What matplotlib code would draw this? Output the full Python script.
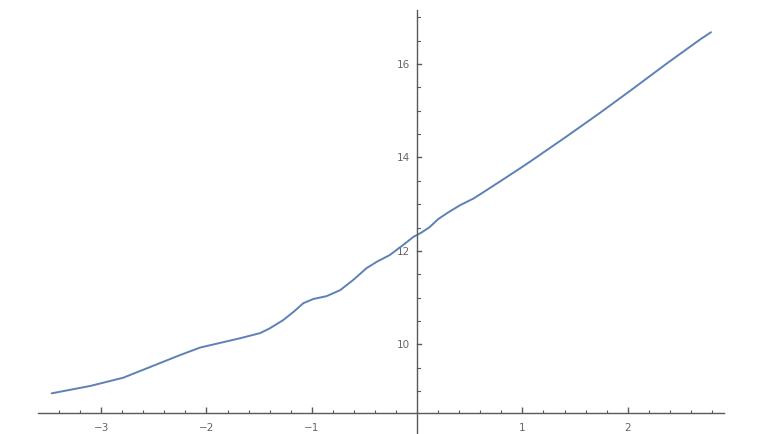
import numpy as np
import matplotlib.pyplot as plt
from matplotlib.ticker import FixedLocator, FuncFormatter

# curve points
x_vals = [-3.47, -3.10, -2.79, -2.55, -2.25, -2.06, -1.87, -1.68, -1.49, -1.40,
          -1.27, -1.17, -1.08, -0.985, -0.86, -0.73, -0.605, -0.48, -0.38, -0.26,
          -0.13, -0.035, 0.04, 0.12, 0.20, 0.30, 0.41, 0.535, 0.66, 0.79,
          1.00, 1.105, 1.42, 1.74, 2.055, 2.37, 2.69, 2.79]
y_vals = [8.95, 9.11, 9.285, 9.50, 9.77, 9.93, 10.03, 10.13, 10.24, 10.34,
          10.52, 10.70, 10.88, 10.97, 11.03, 11.16, 11.38, 11.63, 11.77, 11.91,
          12.13, 12.30, 12.39, 12.51, 12.68, 12.83, 12.98, 13.12, 13.30, 13.49,
          13.80, 13.96, 14.45, 14.96, 15.48, 16.01, 16.53, 16.68]

x_ticks = [-3, -2, -1, 1, 2]
y_ticks = [10, 12, 14, 16]

axis_col = "#5a5a5a"
label_col = "#666666"

fig = plt.figure(figsize=(7.71, 4.34), dpi=100)
ax = fig.add_axes([0, 0, 1, 1])
ax.plot(x_vals, y_vals, color="#5e81b5", lw=1.4, solid_joinstyle="round",
        solid_capstyle="round")

ax.set_xlim(-3.96, 3.36)
ax.set_ylim(8.08, 17.37)

for s in ["top", "right"]:
    ax.spines[s].set_visible(False)
ax.spines["left"].set_position(("data", 0))
ax.spines["bottom"].set_position(("data", 8.52))
ax.spines["left"].set_bounds(8.08, 17.15)
ax.spines["bottom"].set_bounds(-3.6, 2.91)
for s in ["left", "bottom"]:
    ax.spines[s].set_color(axis_col)
    ax.spines[s].set_linewidth(1.0)

ax.set_xticks(x_ticks)
ax.set_yticks(y_ticks)
ax.xaxis.set_minor_locator(FixedLocator(np.round(np.arange(-3.4, 2.9, 0.2), 2)))
ax.yaxis.set_minor_locator(FixedLocator([]))
fmt = FuncFormatter(lambda v, p: f"{int(round(v))}".replace("-", "\u2212"))
ax.xaxis.set_major_formatter(fmt)
ax.yaxis.set_major_formatter(fmt)

ax.tick_params(axis="x", which="major", direction="in", length=4, width=1,
               color=axis_col, labelcolor=label_col, labelsize=7.5, pad=7)
ax.tick_params(axis="x", which="minor", direction="in", length=2.5, width=0.8,
               color=axis_col)
ax.tick_params(axis="y", which="major", direction="out", length=0, width=1,
               color=axis_col, labelcolor=label_col, labelsize=7.5, pad=5)

# y ticks on the right side of the axis line
for yv in np.arange(9.0, 17.01, 0.5):
    major = int(round(yv)) in y_ticks and abs(yv - round(yv)) < 1e-6
    ax.plot([0, 0.04 if major else 0.028], [yv, yv], color=axis_col,
            lw=1.0 if major else 0.8, clip_on=False)

fig.savefig("out.png", dpi=100, facecolor="white")
